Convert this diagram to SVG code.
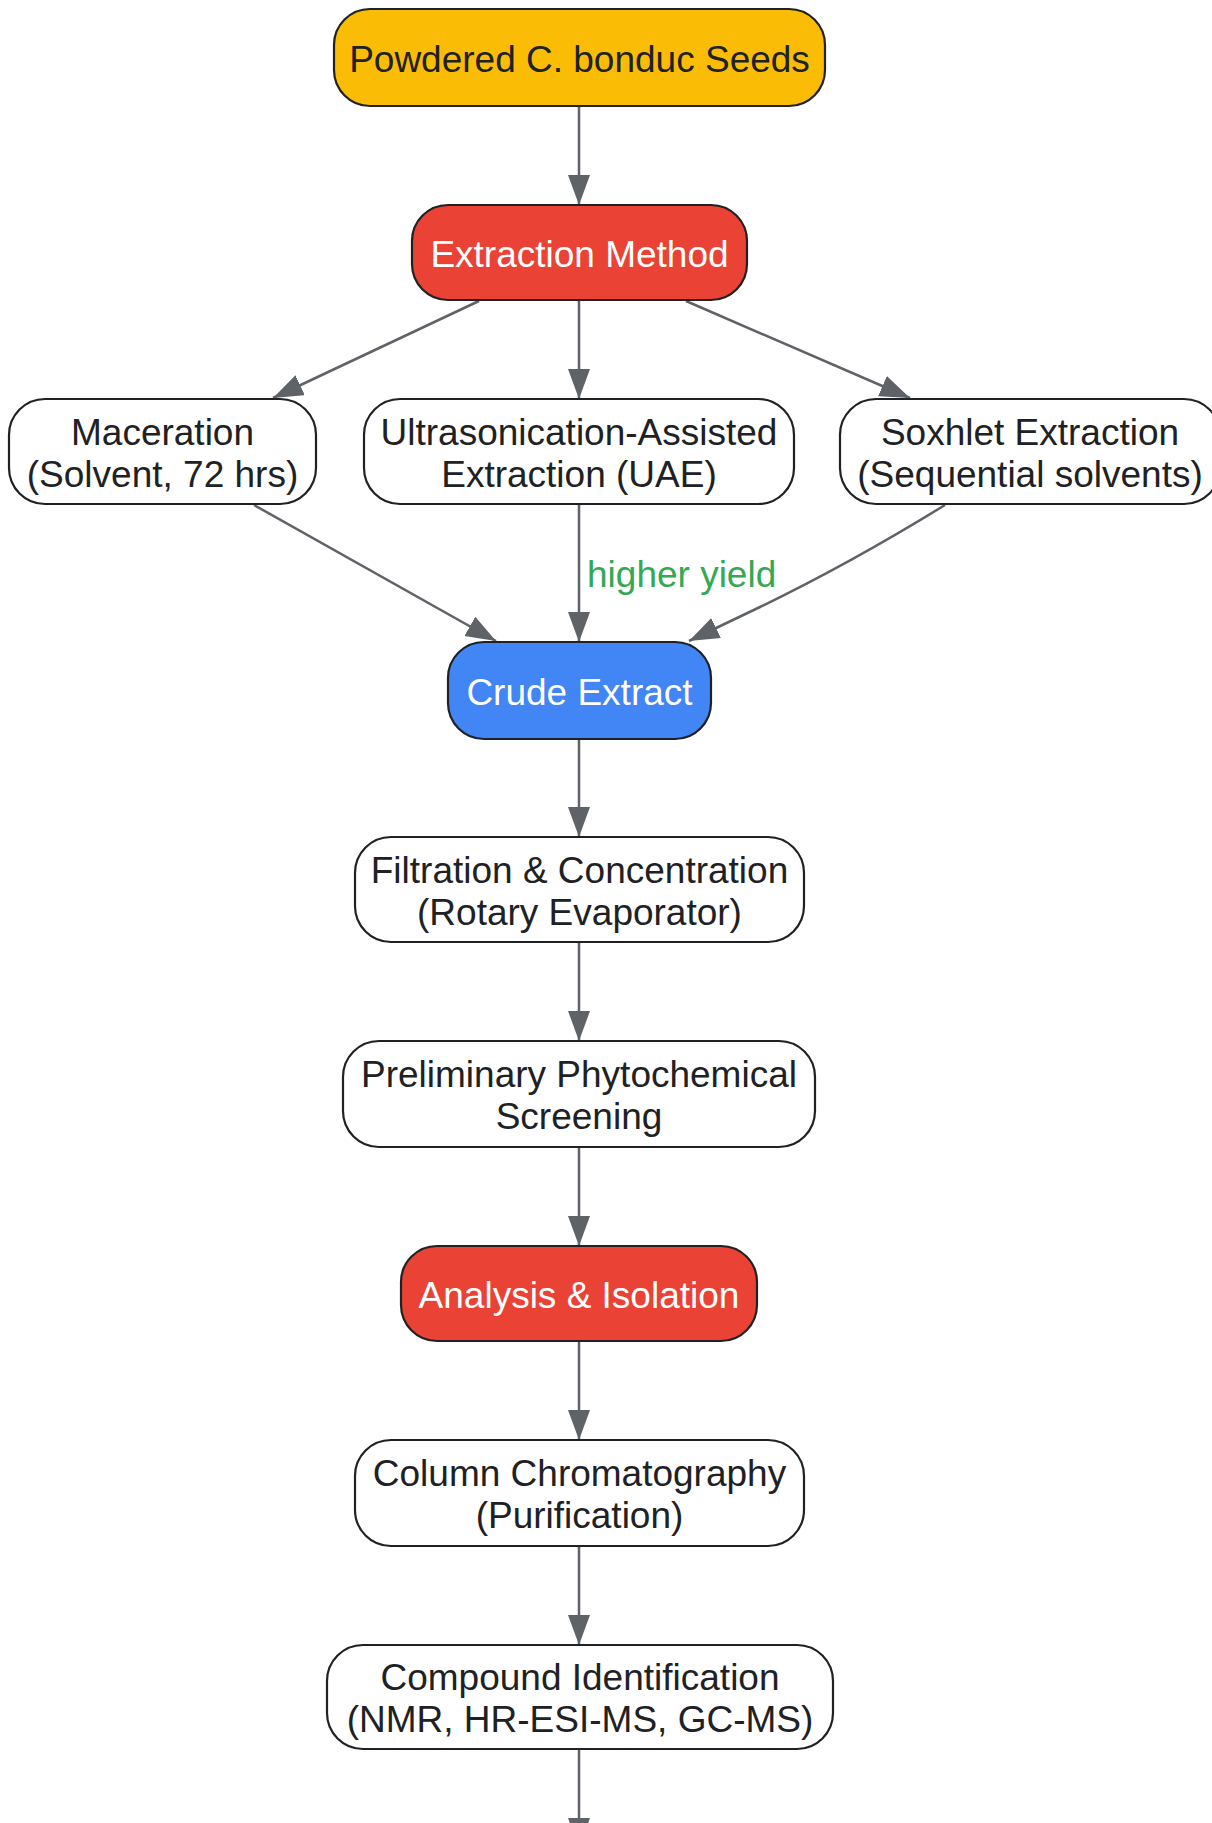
<svg xmlns="http://www.w3.org/2000/svg" width="1212" height="1823" viewBox="0 0 1212 1823">
<defs>
<style>
.n{stroke:#202124;stroke-width:2.2}
.w{fill:#ffffff}
.y{fill:#FBBC05}
.r{fill:#EA4335}
.b{fill:#4285F4}
text{font-family:"Liberation Sans",Arial,sans-serif;font-size:37px;text-anchor:middle;fill:#202124}
.lt{fill:#ffffff}
.c{fill:none;stroke:#5F6368;stroke-width:2.5}
.lbl{fill:#34A853;text-anchor:start}
</style>
<marker id="ah" markerUnits="userSpaceOnUse" markerWidth="32" markerHeight="24" refX="30" refY="11" orient="auto">
<path d="M0,0 L30,11 L0,22 Z" fill="#5F6368"/>
</marker>
</defs>
<rect width="1212" height="1823" fill="#ffffff"/>
<g id="connectors">
<path class="c" d="M579,106 L579,205" marker-end="url(#ah)"/>
<path class="c" d="M479,301 L273,398" marker-end="url(#ah)"/>
<path class="c" d="M579,300 L579,399" marker-end="url(#ah)"/>
<path class="c" d="M686,301 L910,398" marker-end="url(#ah)"/>
<path class="c" d="M254,505 L496,641" marker-end="url(#ah)"/>
<path class="c" d="M579,505 L579,642" marker-end="url(#ah)"/>
<text class="lbl" x="587" y="587">higher yield</text>
<path class="c" d="M945,505 C880,545 820,578 760,607 L689,641" marker-end="url(#ah)"/>
<path class="c" d="M579,739 L579,837" marker-end="url(#ah)"/>
<path class="c" d="M579,942 L579,1041" marker-end="url(#ah)"/>
<path class="c" d="M579,1147 L579,1246" marker-end="url(#ah)"/>
<path class="c" d="M579,1341 L579,1440" marker-end="url(#ah)"/>
<path class="c" d="M579,1546 L579,1645" marker-end="url(#ah)"/>
<path class="c" d="M579,1749 L579,1848" marker-end="url(#ah)"/>
</g>
<g id="seeds">
<rect class="n y" x="334" y="9" width="491" height="97" rx="36"/>
<text x="579.5" y="72">Powdered C. bonduc Seeds</text>
</g>
<g id="method">
<rect class="n r" x="412" y="205" width="335" height="95" rx="36"/>
<text class="lt" x="579.5" y="267">Extraction Method</text>
</g>
<g id="maceration">
<rect class="n w" x="9" y="399" width="307" height="105" rx="36"/>
<text x="162.5" y="445">Maceration</text>
<text x="162.5" y="487">(Solvent, 72 hrs)</text>
</g>
<g id="uae">
<rect class="n w" x="364" y="399" width="430" height="105" rx="36"/>
<text x="579" y="445">Ultrasonication-Assisted</text>
<text x="579" y="487">Extraction (UAE)</text>
</g>
<g id="soxhlet">
<rect class="n w" x="840" y="399" width="380" height="105" rx="36"/>
<text x="1030" y="445">Soxhlet Extraction</text>
<text x="1030" y="487">(Sequential solvents)</text>
</g>
<g id="crude">
<rect class="n b" x="448" y="642" width="263" height="97" rx="36"/>
<text class="lt" x="579.5" y="705">Crude Extract</text>
</g>
<g id="filtration">
<rect class="n w" x="355" y="837" width="449" height="105" rx="36"/>
<text x="579.5" y="883">Filtration &amp; Concentration</text>
<text x="579.5" y="925">(Rotary Evaporator)</text>
</g>
<g id="screening">
<rect class="n w" x="343" y="1041" width="472" height="106" rx="36"/>
<text x="579" y="1087">Preliminary Phytochemical</text>
<text x="579" y="1129">Screening</text>
</g>
<g id="analysis">
<rect class="n r" x="401" y="1246" width="356" height="95" rx="36"/>
<text class="lt" x="579" y="1308">Analysis &amp; Isolation</text>
</g>
<g id="column">
<rect class="n w" x="355" y="1440" width="449" height="106" rx="36"/>
<text x="579.5" y="1486">Column Chromatography</text>
<text x="579.5" y="1528">(Purification)</text>
</g>
<g id="compound">
<rect class="n w" x="327" y="1645" width="506" height="104" rx="36"/>
<text x="580" y="1690">Compound Identification</text>
<text x="580" y="1732">(NMR, HR-ESI-MS, GC-MS)</text>
</g>
</svg>
